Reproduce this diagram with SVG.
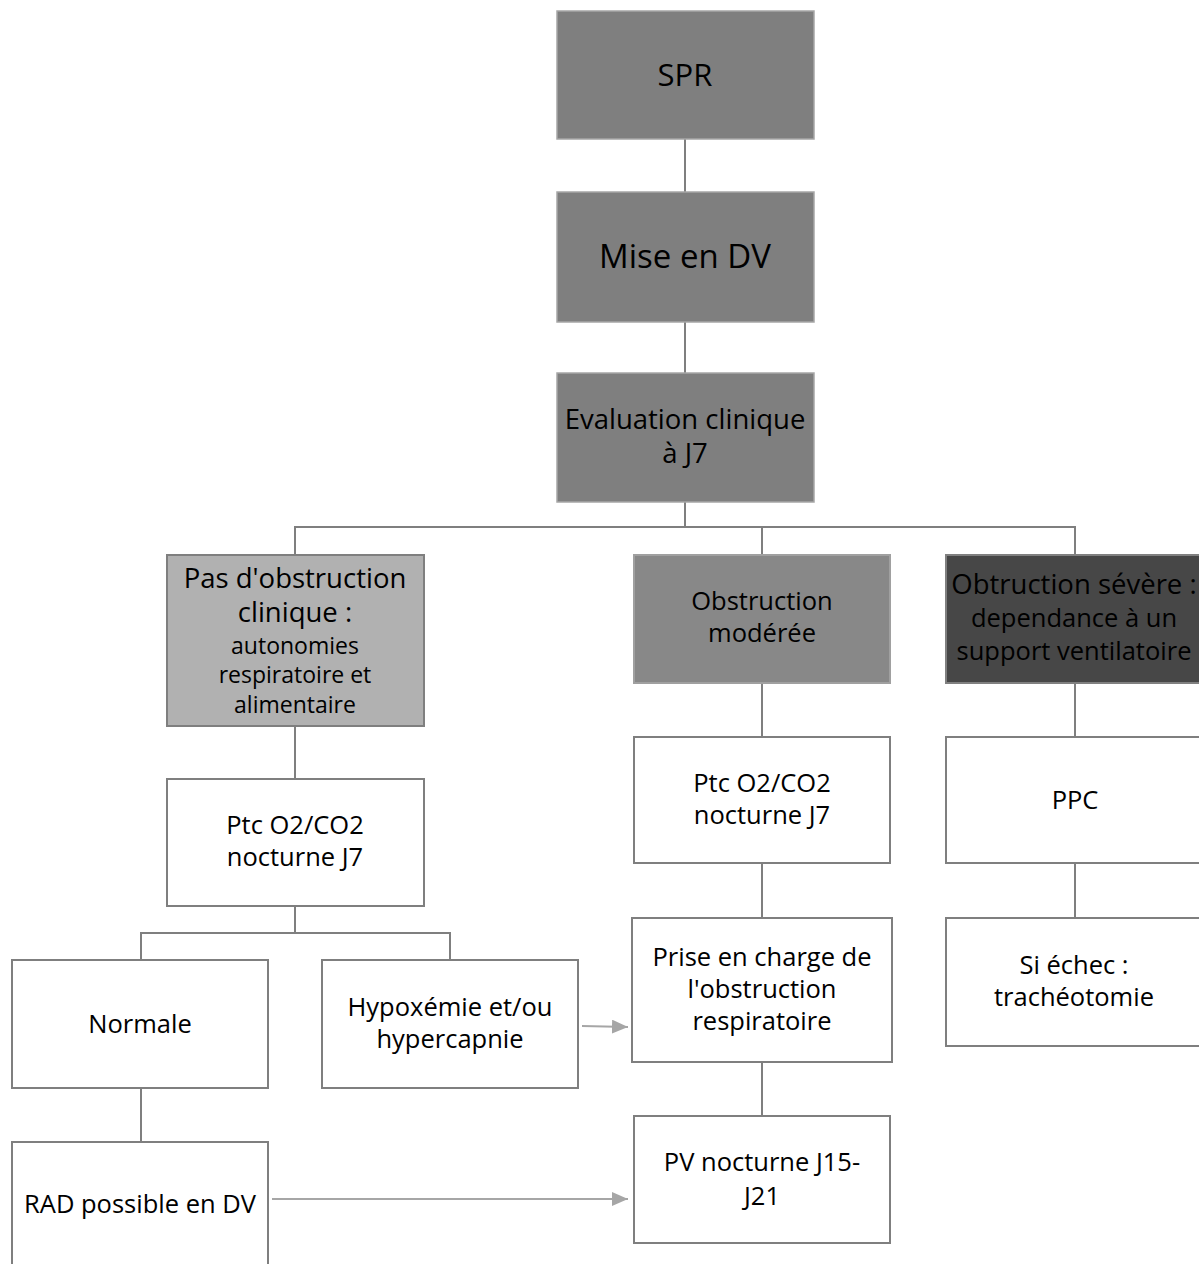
<svg xmlns="http://www.w3.org/2000/svg" width="1199" height="1264" viewBox="0 0 1199 1264">
<style>
  .box { fill: #ffffff; stroke: #7f7f7f; stroke-width: 2; }
  .dark { fill: #7f7f7f; stroke: #a6a6a6; stroke-width: 1.5; }
  .light { fill: #b1b1b1; stroke: #7f7f7f; stroke-width: 2; }
  .mid { fill: #888888; stroke: #a0a0a0; stroke-width: 2; }
  .vdark { fill: #474747; stroke: #808080; stroke-width: 2; }
  .conn { stroke: #7f7f7f; stroke-width: 2; fill: none; }
  .arr { stroke: #a6a6a6; stroke-width: 2; fill: none; }
  text { font-family: "Open Sans", "Liberation Sans", sans-serif; fill: #000000; text-anchor: middle; }
  .xl { font-size: 31px; }
  .big { font-size: 33px; }
  .lg { font-size: 27.5px; }
  .md { font-size: 25.5px; }
  .sm { font-size: 23px; }
</style>
<defs>
  <marker id="ah" viewBox="0 0 16 14" refX="16" refY="7" markerWidth="16" markerHeight="14" orient="auto" markerUnits="userSpaceOnUse">
    <path d="M0,0 L16,7 L0,14 z" fill="#a6a6a6"/>
  </marker>
</defs>
<g id="connectors">
  <line class="conn" x1="685" y1="139" x2="685" y2="192"/>
  <line class="conn" x1="685" y1="322" x2="685" y2="373"/>
  <polyline class="conn" points="685,502 685,527"/>
  <polyline class="conn" points="295,555 295,527 1075,527 1075,555"/>
  <line class="conn" x1="762" y1="527" x2="762" y2="555"/>
  <line class="conn" x1="295" y1="726" x2="295" y2="779"/>
  <line class="conn" x1="762" y1="683" x2="762" y2="737"/>
  <line class="conn" x1="1075" y1="683" x2="1075" y2="737"/>
  <line class="conn" x1="1075" y1="863" x2="1075" y2="918"/>
  <line class="conn" x1="762" y1="863" x2="762" y2="918"/>
  <line class="conn" x1="762" y1="1062" x2="762" y2="1116"/>
  <line class="conn" x1="295" y1="906" x2="295" y2="933"/>
  <polyline class="conn" points="141,960 141,933 450,933 450,960"/>
  <line class="conn" x1="141" y1="1088" x2="141" y2="1142"/>
  <line class="arr" x1="582" y1="1026" x2="628" y2="1027" marker-end="url(#ah)"/>
  <line class="arr" x1="272" y1="1199" x2="628" y2="1199" marker-end="url(#ah)"/>
</g>
<g id="n-spr">
  <rect class="dark" x="557" y="11" width="257" height="128"/>
  <text class="xl" x="685" y="86">SPR</text>
</g>
<g id="n-mise">
  <rect class="dark" x="557" y="192" width="257" height="130"/>
  <text class="big" x="685" y="268">Mise en DV</text>
</g>
<g id="n-eval">
  <rect class="dark" x="557" y="373" width="257" height="129"/>
  <text class="lg" x="685" y="429">Evaluation clinique</text>
  <text class="lg" x="685" y="463">à J7</text>
</g>
<g id="n-pas">
  <rect class="light" x="167" y="555" width="257" height="171"/>
  <text class="lg" x="295" y="588">Pas d'obstruction</text>
  <text class="lg" x="295" y="622">clinique :</text>
  <text class="sm" x="295" y="654">autonomies</text>
  <text class="sm" x="295" y="683">respiratoire et</text>
  <text class="sm" x="295" y="713">alimentaire</text>
</g>
<g id="n-moderee">
  <rect class="mid" x="634" y="555" width="256" height="128"/>
  <text class="md" x="762" y="610">Obstruction</text>
  <text class="md" x="762" y="642">modérée</text>
</g>
<g id="n-severe">
  <rect class="vdark" x="946" y="555" width="260" height="128"/>
  <text class="lg" x="1074" y="594">Obtruction sévère :</text>
  <text class="md" x="1074" y="627">dependance à un</text>
  <text class="md" x="1074" y="660">support ventilatoire</text>
</g>
<g id="n-ptc1">
  <rect class="box" x="167" y="779" width="257" height="127"/>
  <text class="md" x="295" y="834">Ptc O2/CO2</text>
  <text class="md" x="295" y="866">nocturne J7</text>
</g>
<g id="n-ptc2">
  <rect class="box" x="634" y="737" width="256" height="126"/>
  <text class="md" x="762" y="792">Ptc O2/CO2</text>
  <text class="md" x="762" y="824">nocturne J7</text>
</g>
<g id="n-ppc">
  <rect class="box" x="946" y="737" width="260" height="126"/>
  <text class="md" x="1075" y="809">PPC</text>
</g>
<g id="n-normale">
  <rect class="box" x="12" y="960" width="256" height="128"/>
  <text class="md" x="140" y="1033">Normale</text>
</g>
<g id="n-hypox">
  <rect class="box" x="322" y="960" width="256" height="128"/>
  <text class="md" x="450" y="1016">Hypoxémie et/ou</text>
  <text class="md" x="450" y="1048">hypercapnie</text>
</g>
<g id="n-prise">
  <rect class="box" x="632" y="918" width="260" height="144"/>
  <text class="md" x="762" y="966">Prise en charge de</text>
  <text class="md" x="762" y="998">l'obstruction</text>
  <text class="md" x="762" y="1030">respiratoire</text>
</g>
<g id="n-echec">
  <rect class="box" x="946" y="918" width="260" height="128"/>
  <text class="md" x="1074" y="974">Si échec :</text>
  <text class="md" x="1074" y="1006">trachéotomie</text>
</g>
<g id="n-rad">
  <rect class="box" x="12" y="1142" width="256" height="140"/>
  <text class="md" x="140" y="1213">RAD possible en DV</text>
</g>
<g id="n-pv">
  <rect class="box" x="634" y="1116" width="256" height="127"/>
  <text class="md" x="762" y="1171">PV nocturne J15-</text>
  <text class="md" x="762" y="1205">J21</text>
</g>
</svg>
